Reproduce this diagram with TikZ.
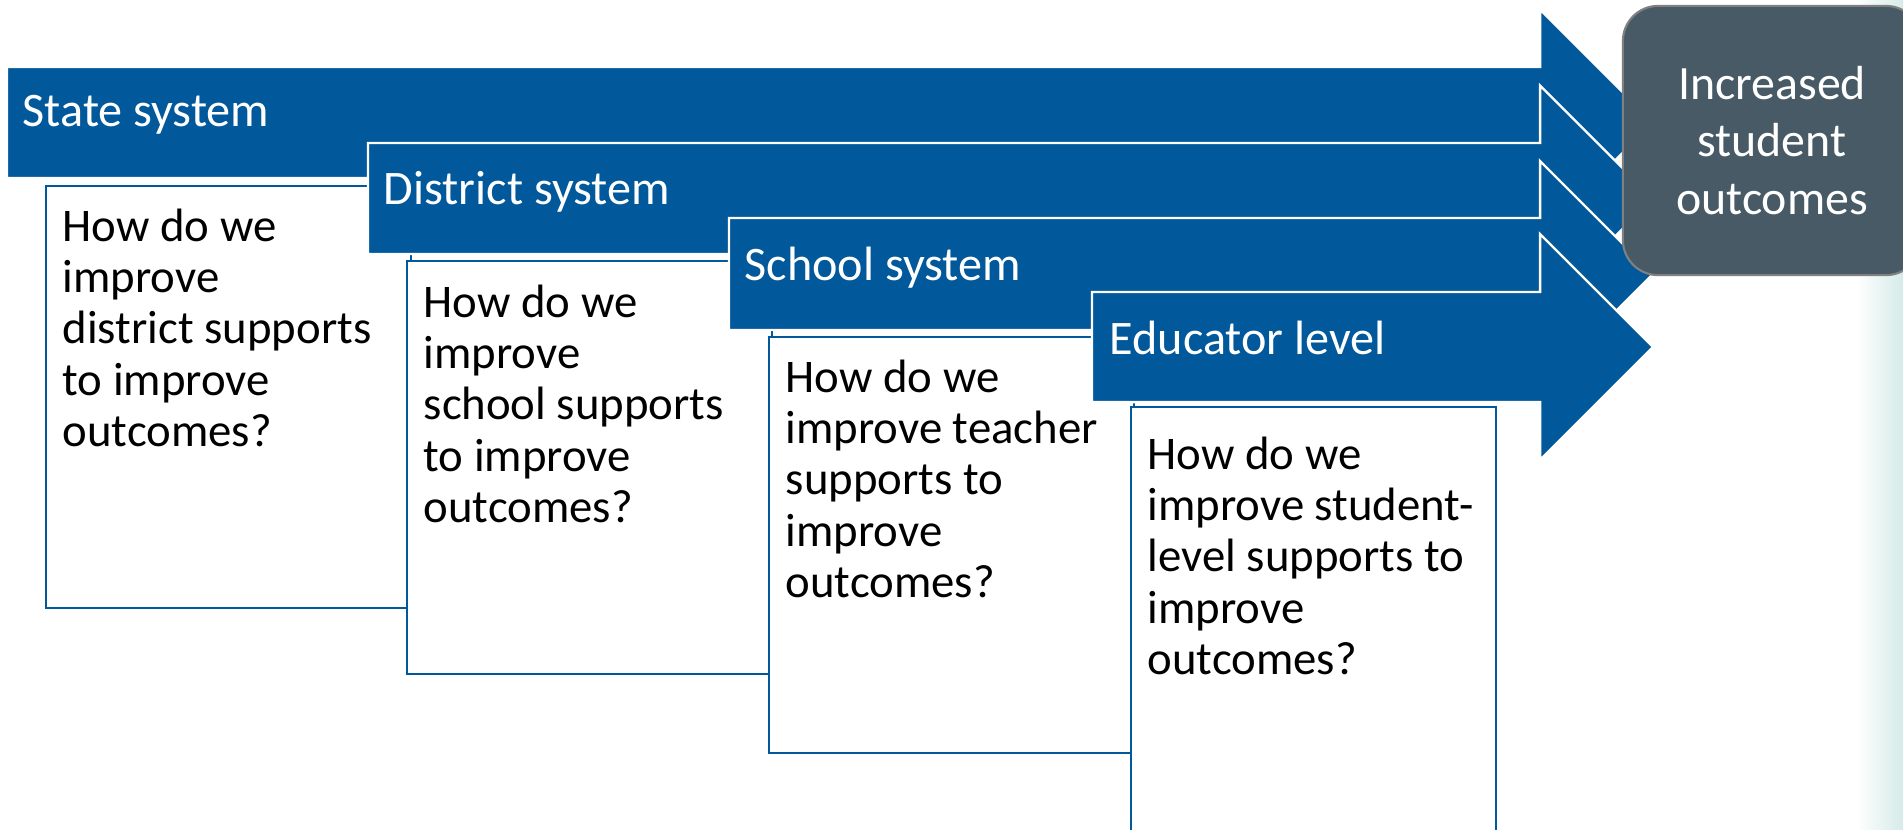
\documentclass[tikz,border=0pt]{standalone}
\usepackage{fontspec}
\setmainfont{Carlito}
\usetikzlibrary{positioning}
\definecolor{levelblue}{HTML}{01589B}
\definecolor{outcomegray}{HTML}{475A66}
\definecolor{edgeteal}{HTML}{D5EBE7}
\begin{document}
\begin{tikzpicture}[x=0.01cm,y=-0.01cm,
	levelarrow/.style={fill=levelblue,draw=white,line width=0.7pt,line join=miter},
	levellabel/.style={text=white,font=\fontsize{13.7}{16}\selectfont,inner sep=0pt},
	questionbox/.style={draw=levelblue,fill=white,line width=0.6pt,anchor=north west,minimum width=3.65cm,inner sep=0pt},
	questiontext/.style={font=\fontsize{13.3}{14.6}\selectfont,align=left,inner sep=0pt},
	outcomebox/.style={fill=outcomegray,draw=gray,line width=0.6pt,rounded corners=0.35cm,minimum width=2.98cm,minimum height=2.69cm,text=white,align=center,font=\fontsize{13.6}{16.4}\selectfont}]
		%\draw [help lines] (0,0) grid (1903,829);
		\useasboundingbox (0,0) rectangle (1903,829);
		\def\hx{1540}	% back of the arrow heads
		\def\tip{1653}	% \hx + head half height
		% faint edge on the right
			\shade [left color=white,right color=edgeteal] (1857,0) rectangle (1903,829);
		% state system
			\coordinate (s1) at (7,67);
			\draw [levelarrow] (s1) -- (\hx,67) -- (\hx,9.5) -- (\tip,122.5) -- (\hx,235.5) -- (\hx,178) -- (7,178) -- cycle;
			\node [levellabel,below right=0.28cm and 0.15cm of s1] (statelbl) {State system};
			\node [questionbox,minimum height=4.22cm] (q1) at (45,185) {};
			\node [questiontext,below right=0.23cm and 0.17cm of q1.north west] (q1txt) {How do we\\improve\\district supports\\to improve\\outcomes?};
		% district system
			\coordinate (s2) at (368,143);
			\draw [levelarrow] (s2) -- (\hx,143) -- (\hx,85.5) -- (\tip,198.5) -- (\hx,311.5) -- (\hx,254) -- (368,254) -- cycle;
			\node [levellabel,below right=0.28cm and 0.15cm of s2] (districtlbl) {District system};
			\node [questionbox,minimum height=4.13cm] (q2) at (406,260) {};
			\node [questiontext,below right=0.24cm and 0.17cm of q2.north west] (q2txt) {How do we\\improve\\school supports\\to improve\\outcomes?};
		% school system
			\coordinate (s3) at (729,218);
			\draw [levelarrow] (s3) -- (\hx,218) -- (\hx,161) -- (\tip,274) -- (\hx,387) -- (\hx,330) -- (729,330) -- cycle;
			\node [levellabel,below right=0.28cm and 0.15cm of s3] (schoollbl) {School system};
			\node [questionbox,minimum height=4.16cm] (q3) at (768,336) {};
			\node [questiontext,below right=0.23cm and 0.17cm of q3.north west] (q3txt) {How do we\\improve teacher\\supports to\\improve\\outcomes?};
		% educator level
			\coordinate (s4) at (1092,292);
			\draw [levelarrow] (s4) -- (\hx,292) -- (\hx,234) -- (\tip,347) -- (\hx,460) -- (\hx,402) -- (1092,402) -- cycle;
			\node [levellabel,below right=0.28cm and 0.17cm of s4] (educatorlbl) {Educator level};
			\node [questionbox,minimum height=4.35cm] (q4) at (1130,406) {};
			\node [questiontext,below right=0.30cm and 0.17cm of q4.north west] (q4txt) {How do we\\improve student-\\level supports to\\improve\\outcomes?};
		% outcome
			\node [outcomebox] (outcome) at (1772,140.5) {Increased\\student\\outcomes};
	\end{tikzpicture}
\end{document}
